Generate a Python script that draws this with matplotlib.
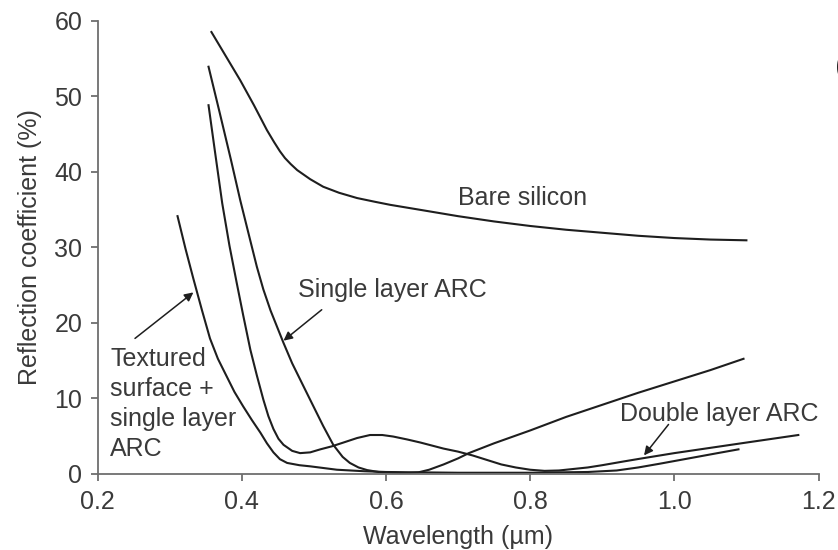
import matplotlib
matplotlib.use("Agg")
import matplotlib.pyplot as plt

plt.rcParams['font.family'] = ['Liberation Sans', 'DejaVu Sans']

# 反射率カーブ（波長 µm, 反射率 %）
bare_x = [0.358, 0.378, 0.398, 0.417, 0.435, 0.445, 0.453, 0.46, 0.468, 0.477, 0.495,
          0.513, 0.535, 0.56, 0.585, 0.606, 0.65, 0.70, 0.75, 0.80, 0.85, 0.90, 0.95,
          1.00, 1.05, 1.10]
bare_y = [58.5, 55.3, 52.1, 48.8, 45.5, 43.9, 42.7, 41.8, 41.0, 40.2, 39.0,
          38.0, 37.2, 36.5, 36.0, 35.6, 34.9, 34.1, 33.4, 32.8, 32.3, 31.9, 31.5,
          31.2, 31.0, 30.9]

single_x = [0.354, 0.37, 0.385, 0.398, 0.41, 0.421, 0.43, 0.44, 0.458, 0.47, 0.486,
            0.50, 0.513, 0.527, 0.54, 0.55, 0.562, 0.574, 0.59, 0.61, 0.63, 0.645,
            0.66, 0.68, 0.70, 0.715, 0.75, 0.80, 0.85, 0.90, 0.95, 1.00, 1.05, 1.096]
single_y = [53.9, 47.6, 41.6, 36.2, 31.6, 27.4, 24.4, 21.6, 17.3, 14.6, 11.5,
            8.8, 6.3, 3.8, 2.2, 1.4, 0.8, 0.45, 0.2, 0.1, 0.05, 0.15,
            0.5, 1.2, 2.0, 2.7, 4.0, 5.7, 7.5, 9.1, 10.7, 12.2, 13.7, 15.2]

double_x = [0.354, 0.363, 0.373, 0.383, 0.393, 0.402, 0.412, 0.421, 0.43, 0.437, 0.444,
            0.451, 0.458, 0.47, 0.481, 0.495, 0.509, 0.525, 0.541, 0.56, 0.578, 0.595,
            0.61, 0.63, 0.648, 0.68, 0.70, 0.72, 0.74, 0.76, 0.78, 0.80, 0.82, 0.84,
            0.86, 0.88, 0.90, 0.93, 0.955, 1.00, 1.05, 1.10, 1.172]
double_y = [48.8, 42.6, 35.8, 30.2, 25.3, 21.0, 16.4, 13.0, 9.8, 7.6, 5.9,
            4.6, 3.8, 3.0, 2.7, 2.8, 3.2, 3.6, 4.1, 4.7, 5.1, 5.1,
            4.9, 4.5, 4.1, 3.3, 2.9, 2.4, 1.8, 1.2, 0.8, 0.5, 0.35, 0.4,
            0.6, 0.8, 1.1, 1.6, 2.0, 2.7, 3.4, 4.1, 5.1]

textured_x = [0.311, 0.322, 0.333, 0.345, 0.356, 0.367, 0.379, 0.39, 0.402, 0.414,
              0.426, 0.435, 0.444, 0.453, 0.463, 0.48, 0.495, 0.532, 0.57, 0.60,
              0.70, 0.80, 0.88, 0.92, 0.95, 0.98, 1.02, 1.06, 1.089]
textured_y = [34.1, 29.8, 25.8, 21.6, 17.9, 15.2, 12.9, 10.8, 8.9, 7.1,
              5.4, 4.0, 2.8, 1.9, 1.4, 1.1, 0.95, 0.5, 0.3, 0.2,
              0.1, 0.1, 0.2, 0.4, 0.8, 1.3, 2.0, 2.7, 3.2]

x_ticks = [0.2, 0.4, 0.6, 0.8, 1.0, 1.2]
y_ticks = [0, 10, 20, 30, 40, 50, 60]

line_c = '#1e1e1e'
text_c = '#3a3a3a'
axis_c = '#6e6e6e'
fs = 18

fig = plt.figure(figsize=(8.38, 5.5), dpi=100)
ax = fig.add_axes([97.5 / 838, 1 - 473.5 / 550, 721 / 838, 452.8 / 550])

for xs, ys in [(bare_x, bare_y), (single_x, single_y),
               (double_x, double_y), (textured_x, textured_y)]:
    ax.plot(xs, ys, color=line_c, lw=1.5, solid_joinstyle='round')

ax.set_xlim(0.2, 1.2)
ax.set_ylim(0, 60)
ax.set_xticks(x_ticks)
ax.set_xticklabels([f"{v:.1f}" for v in x_ticks])
ax.set_yticks(y_ticks)

for s in ['top', 'right']:
    ax.spines[s].set_visible(False)
for s in ['left', 'bottom']:
    ax.spines[s].set_color(axis_c)
    ax.spines[s].set_linewidth(1.3)

ax.tick_params(axis='both', direction='out', length=5, width=1.3, color=axis_c,
               labelsize=fs, labelcolor=text_c)
ax.tick_params(axis='y', pad=6)
ax.tick_params(axis='x', pad=7)

ax.set_xlabel("Wavelength (µm)", fontsize=fs, color=text_c, labelpad=8)
ax.set_ylabel("Reflection coefficient (%)", fontsize=fs, color=text_c, labelpad=9)

# ラベル
ax.text(0.790, 35.6, "Bare silicon", fontsize=fs, color=text_c,
        ha='center', va='baseline')
ax.text(0.478, 23.45, "Single layer ARC", fontsize=fs, color=text_c,
        ha='left', va='baseline')
ax.text(0.9242, 6.92, "Double layer ARC", fontsize=fs, color=text_c,
        ha='left', va='baseline')
tex_lines = ["Textured", "surface +", "single layer", "ARC"]
tex_base = [14.19, 10.22, 6.26, 2.29]
for t, yb in zip(tex_lines, tex_base):
    ax.text(0.2174, yb, t, fontsize=fs, color=text_c, ha='left', va='baseline')

arrow = dict(arrowstyle='-|>', color=line_c, lw=1.1, mutation_scale=13,
             shrinkA=0, shrinkB=0)
ax.annotate("", xy=(0.333, 24.0), xytext=(0.252, 17.9), arrowprops=arrow)
ax.annotate("", xy=(0.458, 17.6), xytext=(0.511, 21.7), arrowprops=arrow)
ax.annotate("", xy=(0.958, 2.4), xytext=(0.992, 6.5), arrowprops=arrow)

# パネル記号（右端で切れている）
fig.text(835 / 838, 1 - 66.7 / 550, "(a)", fontsize=23, color='#222222',
         ha='left', va='center')

fig.savefig("out.png", dpi=100, facecolor='white')
